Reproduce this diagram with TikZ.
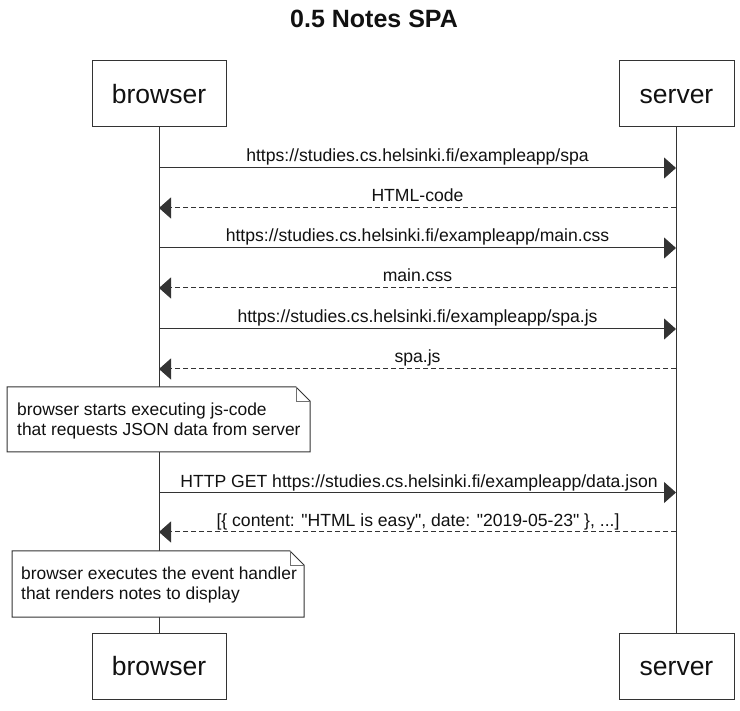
\documentclass[tikz,border=0pt]{standalone}
\usepackage{fontspec}
\setmainfont{Liberation Sans}[Ligatures=TeXOff]
\usetikzlibrary{arrows.meta}
\definecolor{ln}{HTML}{333333}
\definecolor{tx}{HTML}{111111}
\begin{document}
\begin{tikzpicture}[x=1pt,y=-1pt,
  actor/.style={draw=ln, line width=1pt, fill=white, minimum height=66pt, inner sep=0pt, text height=19.4pt, text depth=0pt, font=\fontsize{26.5}{30}\selectfont, text=tx},
  life/.style={draw=ln, line width=1pt},
  req/.style={draw=ln, line width=1pt, -{Triangle[length=12pt,width=21pt]}},
  resp/.style={req, dash pattern=on 5pt off 3pt},
  lbl/.style={font=\fontsize{17.6}{20}\selectfont, text=tx, anchor=base, inner sep=0pt},
  notebox/.style={draw=ln, line width=1pt, fill=white, line join=miter},
  notefold/.style={draw=ln!70, line width=0.8pt},
  notetext/.style={font=\fontsize{17.4}{20.5}\selectfont, text=tx, align=left, anchor=west, inner sep=0pt},
  ttl/.style={font=\bfseries\fontsize{25}{30}\selectfont, text=tx, anchor=base, inner sep=0pt}
]
\useasboundingbox (0,0) rectangle (740,711);
\fill[white] (0,0) rectangle (740,711);

\node[ttl] (title) at (374,28) {0.5 Notes SPA};

% actors
\node[actor, minimum width=134pt] (bt) at (159,94) {browser};
\node[actor, minimum width=115pt] (st) at (676.5,94) {server};
\node[actor, minimum width=134pt] (bb) at (159,666) {browser};
\node[actor, minimum width=115pt] (sb) at (676.5,666) {server};

% lifelines
\draw[life] (bt.south) -- (bb.north);
\draw[life] ([xshift=-0.5pt]st.south) -- ([xshift=-0.5pt]sb.north);

% message anchor points
\foreach \n/\y in {1/168,2/208,3/248,4/288,5/329,6/369,7/492.5,8/532}{
  \coordinate (b\n) at (159,\y);
  \coordinate (s\n) at (676,\y);
}

\draw[req] (b1) -- (s1);
\node[lbl] (l1) at (417.5,162) {https://studies.cs.helsinki.fi/exampleapp/spa};
\draw[resp] (s2) -- (b2);
\node[lbl] (l2) at (417.5,202) {HTML-code};
\draw[req] (b3) -- (s3);
\node[lbl] (l3) at (417.5,242) {https://studies.cs.helsinki.fi/exampleapp/main.css};
\draw[resp] (s4) -- (b4);
\node[lbl] (l4) at (417.5,282) {main.css};
\draw[req] (b5) -- (s5);
\node[lbl] (l5) at (417.5,323) {https://studies.cs.helsinki.fi/exampleapp/spa.js};
\draw[resp] (s6) -- (b6);
\node[lbl] (l6) at (417.5,363) {spa.js};

% note 1
\draw[notebox] (7,387) -- (296,387) -- (310,401) -- (310,452) -- (7,452) -- cycle;
\draw[notefold] (296,387) -- (296,401) -- (310,401);
\node[notetext] (n1) at (17,421) {browser starts executing js-code\\that requests JSON data from server};

\draw[req] (b7) -- (s7);
\node[lbl] (l7) at (419,487.5) {HTTP GET https://studies.cs.helsinki.fi/exampleapp/data.json};
\draw[resp] (s8) -- (b8);
\node[lbl] (l8) at (418,527) {[\{ content: "HTML is easy", date: "2019-05-23" \}, ...]};

% note 2
\draw[notebox] (12,551) -- (290,551) -- (304,565) -- (304,617) -- (12,617) -- cycle;
\draw[notefold] (290,551) -- (290,565) -- (304,565);
\node[notetext] (n2) at (21,585) {browser executes the event handler\\that renders notes to display};
\end{tikzpicture}
\end{document}
